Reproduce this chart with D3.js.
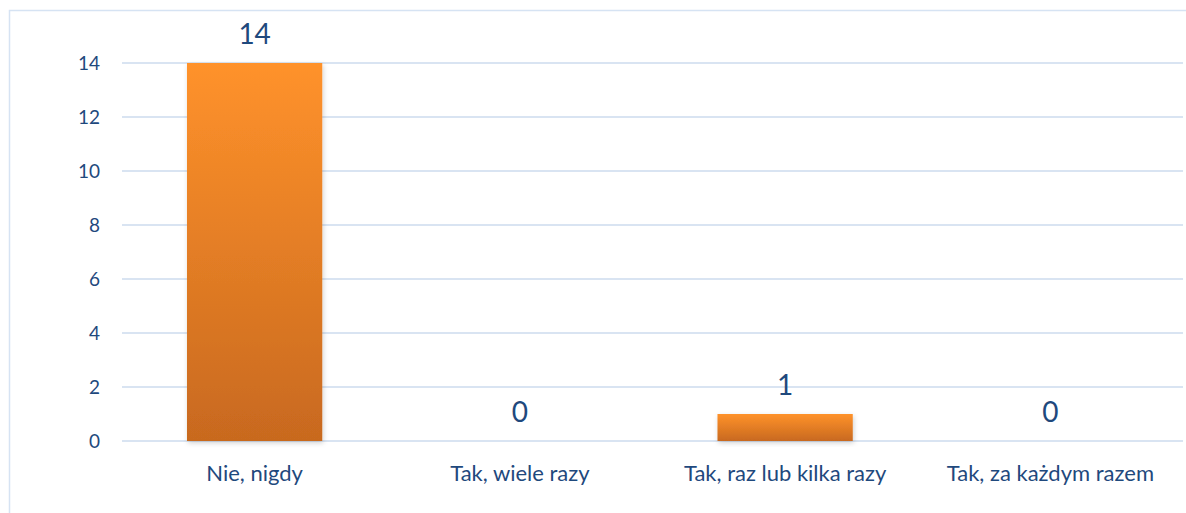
<!DOCTYPE html>
<html>
<head>
<meta charset="utf-8">
<script src="https://cdn.jsdelivr.net/npm/d3@7"></script>
<style>
    body { margin: 0; background: #fff; }
    text { font-family: Lato, "Open Sans", sans-serif; fill: #1f497d; }
</style>
</head>
<body>
<svg id="chart" width="1186" height="513"></svg>
<script>
var categories = ["Nie, nigdy", "Tak, wiele razy", "Tak, raz lub kilka razy", "Tak, za każdym razem"];
var counts = [14, 0, 1, 0];
var yTicks = [0, 2, 4, 6, 8, 10, 12, 14];

draw_chart();

function draw_chart() {
    var svg = d3.select("#chart");
    var plotLeft = 122, plotRight = 1183, plotTop = 63, plotBottom = 441;

    // outer frame
    svg.append("rect")
        .attr("x", 9.5).attr("y", 10.5)
        .attr("width", 1200).attr("height", 600)
        .attr("fill", "none")
        .attr("stroke", "#d6e3f3")
        .attr("stroke-width", 1.5);

    var defs = svg.append("defs");
    var grad = defs.append("linearGradient")
        .attr("id", "barGrad")
        .attr("x1", 0).attr("y1", 0).attr("x2", 0).attr("y2", 1);
    grad.append("stop").attr("offset", "0%").attr("stop-color", "#ff922b");
    grad.append("stop").attr("offset", "100%").attr("stop-color", "#c8691f");

    var shadow = defs.append("filter").attr("id", "shadow")
        .attr("x", "-10%").attr("y", "-10%").attr("width", "130%").attr("height", "130%");
    shadow.append("feDropShadow")
        .attr("dx", 1).attr("dy", 2).attr("stdDeviation", 2.5)
        .attr("flood-color", "#000").attr("flood-opacity", 0.18);

    var x = d3.scaleBand()
        .domain(categories)
        .range([plotLeft, plotRight])
        .paddingInner(0.49)
        .paddingOuter(0.245);

    var y = d3.scaleLinear()
        .domain([0, 14])
        .range([plotBottom, plotTop]);

    // gridlines
    svg.append("g")
        .selectAll("line")
        .data(yTicks)
        .enter()
        .append("line")
        .attr("x1", plotLeft).attr("x2", plotRight)
        .attr("y1", function(d){ return y(d); })
        .attr("y2", function(d){ return y(d); })
        .attr("stroke", "#d9e4f2")
        .attr("stroke-width", 2);

    // y axis labels
    var yAxis = d3.axisLeft(y).tickValues(yTicks).tickSize(0).tickPadding(0);
    var yg = svg.append("g")
        .attr("transform", "translate(100,0)")
        .call(yAxis);
    yg.select(".domain").remove();
    yg.selectAll("text")
        .style("font-size", "19px")
        .attr("fill", "#1f497d");

    // bars
    svg.append("g")
        .selectAll("rect")
        .data(counts)
        .enter()
        .append("rect")
        .attr("x", function(d, i){ return x(categories[i]); })
        .attr("y", function(d){ return y(d); })
        .attr("width", x.bandwidth())
        .attr("height", function(d){ return plotBottom - y(d); })
        .attr("fill", "url(#barGrad)")
        .attr("filter", "url(#shadow)");

    // value labels
    svg.append("g")
        .selectAll("text")
        .data(counts)
        .enter()
        .append("text")
        .attr("x", function(d, i){ return x(categories[i]) + x.bandwidth() / 2; })
        .attr("y", function(d){ return y(d) - 19; })
        .attr("text-anchor", "middle")
        .style("font-size", "28px")
        .text(function(d){ return d; });

    // category labels
    var xAxis = d3.axisBottom(x).tickSize(0).tickPadding(0);
    var xg = svg.append("g")
        .attr("transform", "translate(0,465)")
        .call(xAxis);
    xg.select(".domain").remove();
    xg.selectAll("text")
        .style("font-size", "22px")
        .attr("fill", "#1f497d");
}
</script>
</body>
</html>
